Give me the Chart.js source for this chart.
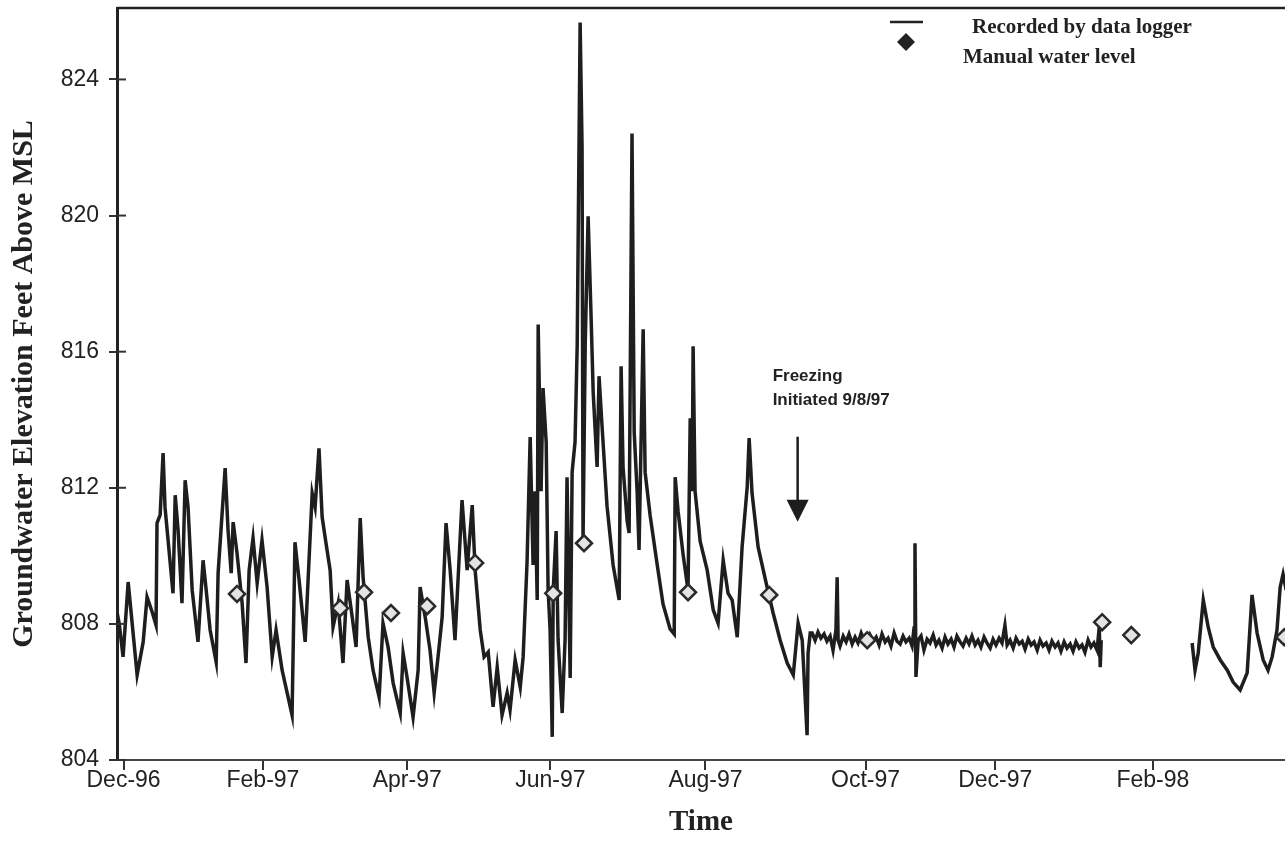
<!DOCTYPE html>
<html>
<head>
<meta charset="utf-8">
<script src="https://cdn.jsdelivr.net/npm/chart.js@4.4.1/dist/chart.umd.min.js"></script>
<style>
  html, body { margin: 0; padding: 0; background: #ffffff; overflow: hidden; }
  #wrap { width: 1285px; height: 842px; position: relative; }
  canvas { display: block; }
</style>
</head>
<body>
<div id="wrap"><canvas id="c"></canvas></div>
<script>
// ---- data (days counted from 1 Dec 1996, levels in feet above MSL) ----
const loggerDays = [
  0.3, 1.2, 2.8, 4.9, 6.1, 8.6, 11.1, 12.7, 14.8, 16.4, 16.8, 18.1, 19.3, 20.1, 23.4, 24.3, 25.5, 27.1, 28.4, 29.6,
  31.3, 33.7, 35.8, 37.0, 38.7, 41.2, 42.0, 44.9, 46.1, 47.4, 48.2, 49.8, 51.9, 53.5, 54.8, 56.4, 58.1, 60.1, 62.2, 64.3,
  65.9, 68.4, 72.5, 73.7, 75.4, 77.9, 80.8, 82.0, 83.6, 84.9, 86.5, 88.2, 89.4, 91.5, 93.5, 95.2, 97.3, 98.9, 100.6, 101.8,
  103.9, 105.9, 108.4, 110.0, 112.1, 114.2, 117.1, 118.3, 119.9, 122.4, 124.5, 125.3, 127.4, 129.4, 131.1, 132.7, 134.4, 136.0, 137.7, 139.7,
  142.6, 144.7, 146.8, 148.0, 150.1, 151.7, 153.4, 155.4, 157.1, 159.1, 161.2, 162.4, 164.5, 166.6, 167.8, 169.4, 170.7, 171.9, 172.7, 173.6,
  174.0, 175.2, 176.0, 177.3, 178.1, 178.9, 179.8, 180.2, 181.4, 182.2, 183.9, 185.1, 185.9, 187.2, 188.0, 189.2, 190.1, 191.3, 192.1, 192.5,
  193.4, 194.6, 195.8, 196.7, 198.3, 199.1, 200.4, 202.4, 204.9, 207.4, 208.2, 209.0, 210.7, 211.5, 212.7, 213.6, 214.8, 215.6, 217.3, 218.1,
  220.2, 223.1, 225.5, 228.4, 230.1, 230.5, 231.7, 233.8, 235.8, 236.7, 237.5, 237.9, 238.7, 240.8, 243.7, 246.2, 248.2, 250.3, 252.3, 254.0,
  256.1, 258.1, 260.2, 261.0, 262.2, 264.7, 268.4, 270.9, 273.8, 276.7, 279.2, 281.2, 282.9, 284.9, 285.3, 286.2,
  287.0, 288.2, 289.4, 290.6, 291.9, 293.1, 294.4, 295.6, 296.8, 297.3, 297.7, 298.5, 299.8, 301.0, 302.2, 303.5, 304.7, 305.9, 307.2, 308.4,
  309.7, 310.9, 312.1, 313.4, 314.6, 315.8, 317.1, 318.3, 319.5, 320.8, 322.0, 323.3, 324.5, 325.7, 327.0, 328.2, 329.0, 329.4, 329.8, 330.7,
  331.9, 333.1, 334.4, 335.6, 336.9, 338.1, 339.3, 340.6, 341.8, 343.0, 344.3, 345.5, 346.7, 348.0, 349.2, 350.5, 351.7, 352.9, 354.2, 355.4,
  356.6, 357.9, 359.1, 360.4, 361.6, 362.8, 364.1, 365.3, 366.5, 367.4, 368.6, 369.9, 371.1, 372.4, 373.6, 374.8, 376.1, 377.3, 378.5, 379.8,
  381.0, 382.2, 383.5, 384.7, 385.9, 387.2, 388.4, 389.6, 390.9, 392.1, 393.4, 394.6, 395.8, 397.1, 398.3, 399.5, 400.8, 402.0, 403.2, 404.5,
  405.4, 405.8, 406.2,
  420.0,
  443.7, 444.9, 446.2, 448.3, 450.3, 452.4, 455.3, 458.2, 460.6, 463.5, 466.4, 468.4, 470.5, 473.0, 475.0, 476.7, 478.7, 480.0, 481.2, 482.5
];
const loggerLevels = [
  808.35, 808.02, 807.03, 809.23, 808.35, 806.50, 807.47, 808.79, 808.35, 807.96, 810.96, 811.20, 813.02, 811.43, 808.90, 811.78, 810.75, 808.61, 812.22, 811.43,
  808.99, 807.47, 809.87, 809.05, 807.82, 806.88, 809.49, 812.58, 810.75, 809.49, 810.99, 810.08, 808.61, 806.85, 809.58, 810.52, 809.20, 810.46, 809.08, 807.03,
  807.82, 806.64, 805.32, 810.40, 809.29, 807.47, 811.84, 811.43, 813.16, 811.14, 810.37, 809.58, 807.91, 808.61, 806.85, 809.29, 808.20, 807.32, 811.11, 809.37,
  807.61, 806.64, 805.85, 808.02, 807.32, 806.26, 805.38, 807.14, 806.44, 805.26, 806.64, 809.08, 808.20, 807.23, 805.97, 807.03, 808.20, 810.96, 809.58, 807.52,
  811.64, 809.58, 811.49, 809.58, 807.82, 807.03, 807.17, 805.56, 806.73, 805.32, 805.97, 805.47, 806.94, 806.14, 807.03, 809.79, 813.49, 809.73, 811.90, 808.70,
  816.80, 811.90, 814.93, 813.34, 808.99, 807.85, 804.68, 808.99, 810.73, 807.55, 805.38, 807.55, 812.31, 806.41, 812.46, 813.34, 816.22, 825.67, 822.00, 810.43,
  816.22, 819.98, 817.07, 814.78, 812.61, 815.28, 813.75, 811.46, 809.73, 808.70, 815.57, 812.61, 811.02, 810.67, 822.41, 813.63, 811.90, 810.17, 816.66, 812.46,
  811.17, 809.73, 808.58, 807.85, 807.70, 812.31, 811.31, 810.02, 808.99, 814.04, 811.90, 816.16, 811.90, 810.43, 809.58, 808.41, 808.02, 809.87, 808.90, 808.70,
  807.61, 810.26, 812.02, 813.46, 811.84, 810.26, 809.08, 808.32, 807.52, 806.85, 806.50, 808.02, 807.52, 804.73, 807.14, 807.73,
  807.73, 807.52, 807.76, 807.58, 807.70, 807.49, 807.64, 807.23, 807.82, 809.37, 807.52, 807.35, 807.64, 807.47, 807.70, 807.41, 807.61, 807.44, 807.73, 807.52,
  807.38, 807.67, 807.49, 807.61, 807.38, 807.70, 807.47, 807.58, 807.35, 807.73, 807.49, 807.41, 807.64, 807.47, 807.58, 807.35, 807.88, 810.37, 806.44, 807.52,
  807.64, 807.23, 807.55, 807.44, 807.67, 807.38, 807.52, 807.29, 807.61, 807.41, 807.55, 807.32, 807.64, 807.47, 807.35, 807.58, 807.41, 807.64, 807.38, 807.52,
  807.32, 807.61, 807.44, 807.29, 807.55, 807.38, 807.58, 807.44, 807.96, 807.38, 807.52, 807.29, 807.58, 807.41, 807.49, 807.26, 807.55, 807.38, 807.47, 807.23,
  807.52, 807.35, 807.44, 807.23, 807.49, 807.32, 807.44, 807.20, 807.47, 807.29, 807.41, 807.20, 807.47, 807.29, 807.38, 807.17, 807.52, 807.32, 807.44, 807.23,
  807.91, 806.73, 807.52,
  null,
  807.44, 806.64, 807.14, 808.70, 807.91, 807.32, 806.94, 806.64, 806.29, 806.06, 806.56, 808.85, 807.73, 806.94, 806.64, 807.03, 807.82, 809.08, 809.46, 808.99
];
const manualDays = [49.8, 92.3, 102.2, 113.3, 128.2, 148.0, 180.2, 192.9, 235.8, 269.3, 309.7, 406.6, 418.6, 481.7];
const manualLevels = [808.88, 808.46, 808.93, 808.32, 808.52, 809.79, 808.90, 810.37, 808.93, 808.85, 807.52, 808.05, 807.67, 807.61];

const xTickDays = [3, 60.5, 120, 179, 243, 309, 362.5, 427.5];
const xTickLabels = ["Dec-96", "Feb-97", "Apr-97", "Jun-97", "Aug-97", "Oct-97", "Dec-97", "Feb-98"];
const yTicks = [804, 808, 812, 816, 820, 824];
const seriesNames = ["Recorded by data logger", "Manual water level"];
const noteLines = ["Freezing", "Initiated 9/8/97"];
const freezeDay = 281;
const arrowFrom = 813.5;
const arrowTo = 811.0;

// ---- decorations drawn with the chart's own scales ----
const decor = {
  id: 'decor',
  afterDraw(chart) {
    const ctx = chart.ctx;
    const a = chart.chartArea;
    const xs = chart.scales.x, ys = chart.scales.y;
    ctx.save();
    // top frame line
    ctx.strokeStyle = '#222';
    ctx.lineWidth = 2.5;
    ctx.beginPath();
    ctx.moveTo(a.left, a.top);
    ctx.lineTo(a.right, a.top);
    ctx.stroke();
    // inner part of y tick marks
    ctx.lineWidth = 2;
    ctx.strokeStyle = '#333';
    yTicks.forEach(v => {
      const y = ys.getPixelForValue(v);
      ctx.beginPath();
      ctx.moveTo(a.left, y);
      ctx.lineTo(a.left + 9, y);
      ctx.stroke();
    });
    // freezing arrow
    const ax = xs.getPixelForValue(freezeDay);
    const y0 = ys.getPixelForValue(arrowFrom);
    const y1 = ys.getPixelForValue(arrowTo);
    ctx.strokeStyle = '#1e1e1e';
    ctx.fillStyle = '#1e1e1e';
    ctx.lineWidth = 2.5;
    ctx.beginPath();
    ctx.moveTo(ax, y0);
    ctx.lineTo(ax, y1 - 18);
    ctx.stroke();
    ctx.beginPath();
    ctx.moveTo(ax - 11, y1 - 22);
    ctx.lineTo(ax + 11, y1 - 22);
    ctx.lineTo(ax, y1);
    ctx.closePath();
    ctx.fill();
    // note text
    ctx.font = 'bold 17px "Liberation Sans", Arial, sans-serif';
    ctx.textBaseline = 'middle';
    ctx.textAlign = 'left';
    ctx.fillStyle = '#222';
    ctx.fillText(noteLines[0], ax - 25, y0 - 60);
    ctx.fillText(noteLines[1], ax - 25, y0 - 36);
    // legend
    ctx.strokeStyle = '#222';
    ctx.lineWidth = 2.5;
    ctx.beginPath();
    ctx.moveTo(890, 22);
    ctx.lineTo(923, 22);
    ctx.stroke();
    ctx.fillStyle = '#222';
    ctx.beginPath();
    ctx.moveTo(906, 33);
    ctx.lineTo(915, 42);
    ctx.lineTo(906, 51);
    ctx.lineTo(897, 42);
    ctx.closePath();
    ctx.fill();
    ctx.font = 'bold 21px "Liberation Serif", "Times New Roman", serif';
    ctx.fillStyle = '#222';
    ctx.fillText(seriesNames[0], 972, 28);
    ctx.fillText(seriesNames[1], 963, 58);
    ctx.restore();
  }
};

new Chart(document.getElementById('c'), {
  type: 'line',
  data: {
    datasets: [
      {
        label: seriesNames[1],
        data: manualDays.map((d, i) => ({ x: d, y: manualLevels[i] })),
        showLine: false,
        pointStyle: 'rectRot',
        pointRadius: 8,
        pointBorderWidth: 2.5,
        pointBorderColor: '#2a2a2a',
        pointBackgroundColor: '#e4e4e4'
      },
      {
        label: seriesNames[0],
        data: loggerDays.map((d, i) => ({ x: d, y: loggerLevels[i] })),
        borderColor: '#1e1e1e',
        borderWidth: 3.5,
        pointRadius: 0,
        tension: 0,
        spanGaps: false
      }
    ]
  },
  options: {
    responsive: true,
    maintainAspectRatio: false,
    animation: false,
    layout: { autoPadding: false, padding: { top: 8, right: 0, left: 0, bottom: 0 } },
    plugins: { legend: { display: false }, tooltip: { enabled: false } },
    scales: {
      x: {
        type: 'linear',
        position: 'bottom',
        min: 0.3,
        max: 482,
        afterBuildTicks: s => { s.ticks = xTickDays.map(v => ({ value: v })); },
        afterFit: s => { s.height = 82; s.paddingLeft = 0; s.paddingRight = 0; s.paddingTop = 0; s.paddingBottom = 0; },
        ticks: {
          autoSkip: false, maxRotation: 0, minRotation: 0, padding: -3,
          color: '#222',
          font: { family: '"Liberation Sans", Arial, sans-serif', size: 23 },
          callback: (v, i) => xTickLabels[i]
        },
        grid: { drawOnChartArea: false, drawTicks: true, tickLength: 10, color: '#333', lineWidth: 2 },
        border: { display: true, color: '#444', width: 2 },
        title: {
          display: true, text: 'Time', color: '#222',
          font: { family: '"Liberation Serif", "Times New Roman", serif', size: 29, weight: 'bold' },
          padding: { top: 0, bottom: 2 }
        }
      },
      y: {
        min: 804,
        max: 826.1,
        afterBuildTicks: s => { s.ticks = yTicks.map(v => ({ value: v })); },
        afterFit: s => { s.width = 117; s.paddingLeft = 0; s.paddingRight = 0; s.paddingTop = 0; s.paddingBottom = 0; },
        ticks: {
          padding: 10, color: '#222',
          font: { family: '"Liberation Sans", Arial, sans-serif', size: 23 }
        },
        grid: { drawOnChartArea: false, drawTicks: true, tickLength: 8, color: '#333', lineWidth: 2 },
        border: { display: true, color: '#222', width: 3 },
        title: {
          display: true, text: 'Groundwater Elevation Feet Above MSL', color: '#222',
          font: { family: '"Liberation Serif", "Times New Roman", serif', size: 30, weight: 'bold' },
          padding: { top: 6, bottom: 0 }
        }
      }
    }
  },
  plugins: [decor]
});
</script>
</body>
</html>
